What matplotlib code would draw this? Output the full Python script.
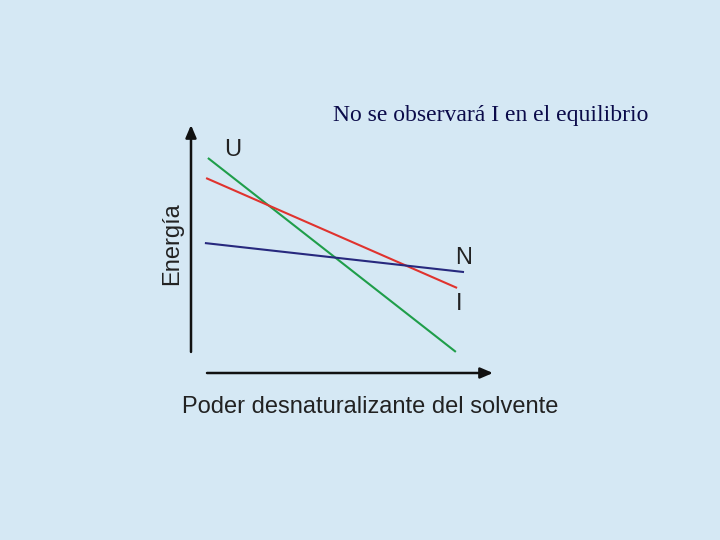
import matplotlib
matplotlib.use("Agg")
import matplotlib.pyplot as plt

# energy vs denaturing power of the solvent (arbitrary units, 0-100)
states = ["U", "I", "N"]
x_start = [5.6, 5.0, 4.6]
x_end = [87.7, 88.1, 90.4]
e_start = [86.7, 78.6, 52.4]
e_end = [8.5, 34.3, 40.7]
colors = ["#1f9e4a", "#e0332e", "#27297e"]

bg = "#d5e8f4"
ink = "#222222"
fs = 17

fig = plt.figure(figsize=(7.2, 5.4), dpi=100, facecolor=bg)
ax = fig.add_axes([191 / 720, 167 / 540, 302 / 720, 248 / 540])
ax.set_facecolor(bg)
ax.set_xlim(0, 100)
ax.set_ylim(0, 100)
ax.axis("off")

for x0, x1, y0, y1, c in zip(x_start, x_end, e_start, e_end, colors):
    ax.plot([x0, x1], [y0, y1], color=c, lw=1.5, solid_capstyle="butt")

# state labels
ax.text(13.9, 90.0, "U", fontsize=fs, color=ink, family="Liberation Sans", ha="center", va="center")
ax.text(90.4, 46.5, "N", fontsize=fs, color=ink, family="Liberation Sans", ha="center", va="center")
ax.text(88.7, 28.0, "I", fontsize=fs, color=ink, family="Liberation Sans", ha="center", va="center")

# axis arrows
arrow = dict(arrowstyle="-|>,head_length=0.75,head_width=0.32", color="#111111", lw=1.8,
             shrinkA=0, shrinkB=0)
ax.annotate("", xy=(0, 1.0), xytext=(0, 0.085), xycoords="axes fraction", arrowprops=arrow)
ax.annotate("", xy=(1.0, 0), xytext=(0.053, 0), xycoords="axes fraction", arrowprops=arrow)

ax.text(-0.063, 0.52, "Energía", transform=ax.transAxes, rotation=90, fontsize=fs,
        color=ink, family="Liberation Sans", ha="center", va="center")
ax.text(0.593, -0.137, "Poder desnaturalizante del solvente", transform=ax.transAxes,
        fontsize=fs, color=ink, family="Liberation Sans", ha="center", va="center")

fig.text(491 / 720, 1 - 116 / 540, "No se observará I en el equilibrio", fontsize=fs,
         color="#0b0b4a", family="Liberation Serif", ha="center", va="center")

fig.savefig("out.png", dpi=100, facecolor=bg)
